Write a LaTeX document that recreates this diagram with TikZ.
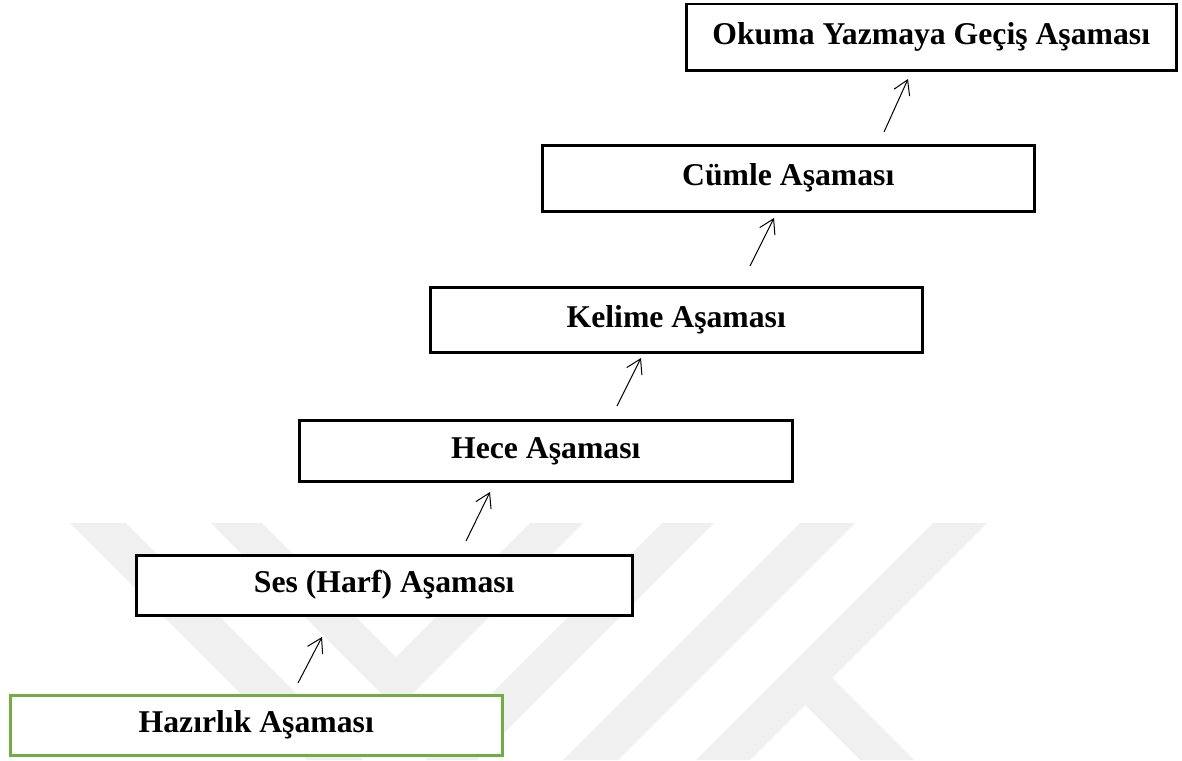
\documentclass[tikz,border=0pt]{standalone}
\usepackage{fontspec}
\setmainfont{Liberation Serif}
\usetikzlibrary{arrows.meta}
\definecolor{markgray}{RGB}{240,240,240}
\definecolor{okgreen}{RGB}{112,173,71}

\begin{document}
\begin{tikzpicture}[x=1pt, y=-1pt,
  stagebox/.style={draw=black, line width=2.5pt, fill=white, anchor=north west,
    inner sep=0pt, text height=22pt, text depth=7pt,
    font={\fontsize{31.7}{36}\selectfont\bfseries}},
  upto/.style={-{Straight Barb[length=14pt, width=17pt]}, line width=1pt}]

\useasboundingbox (0,0) rectangle (1182,760);

% watermark
\fill[markgray] (70,523) -- (126,523) -- (363,760) -- (307,760) -- cycle;
\fill[markgray] (211,523) -- (262,523) -- (396,657) -- (530,523) -- (583,523) -- (397,709) -- cycle;
\fill[markgray] (662,523) -- (714,523) -- (477,760) -- (425,760) -- cycle;
\fill[markgray] (800,523) -- (855,523) -- (618,760) -- (563,760) -- cycle;
\fill[markgray] (933,523) -- (987,523) -- (832,678) -- (914,760) -- (860,760)
  -- (805,705) -- (750,760) -- (696,760) -- cycle;


\node [stagebox, minimum width=490pt, minimum height=66pt] (okuma)
 at (685,3) {Okuma Yazmaya Geçiş Aşaması};

\node [stagebox, minimum width=492pt, minimum height=66pt] (cumle)
 at (541,144) {Cümle Aşaması};

\node [stagebox, minimum width=492pt, minimum height=65pt] (kelime)
 at (429,286) {Kelime Aşaması};

\node [stagebox, minimum width=493pt, minimum height=61pt] (hece)
 at (298,419) {Hece Aşaması};

\node [stagebox, minimum width=496pt, minimum height=60pt] (ses)
 at (135,554) {Ses (Harf) Aşaması};

\node [stagebox, draw=okgreen, minimum width=492pt, minimum height=60pt] (hazirlik)
 at (9,694) {Hazırlık Aşaması};


\coordinate (hazirlik-out) at (298,683);
\coordinate (ses-in) at (322,637);
\coordinate (ses-out) at (466,541);
\coordinate (hece-in) at (490,492);
\coordinate (hece-out) at (617,406);
\coordinate (kelime-in) at (641,358);
\coordinate (kelime-out) at (750,266);
\coordinate (cumle-in) at (774,218);
\coordinate (cumle-out) at (884,132);
\coordinate (okuma-in) at (908,79);

\draw [upto] (hazirlik-out) -- (ses-in);
\draw [upto] (ses-out) -- (hece-in);
\draw [upto] (hece-out) -- (kelime-in);
\draw [upto] (kelime-out) -- (cumle-in);
\draw [upto] (cumle-out) -- (okuma-in);

\end{tikzpicture}
\end{document}
